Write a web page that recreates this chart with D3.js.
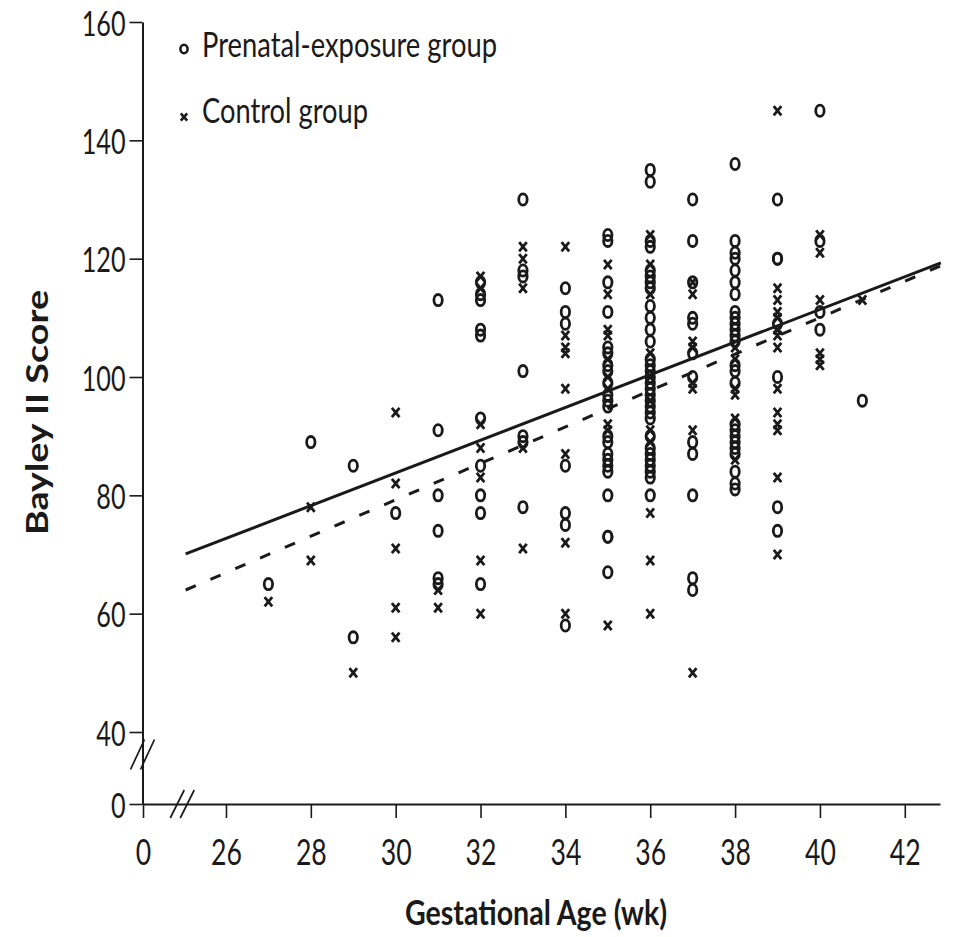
<!DOCTYPE html>
<html>
<head>
<meta charset="utf-8">
<script src="https://cdn.jsdelivr.net/npm/d3@7"></script>
<style>
  html, body { margin: 0; padding: 0; background: #fff; }
  svg { display: block; }
  text { font-family: Lato, "Open Sans", "DejaVu Sans", sans-serif; fill: #1a1a1a; }
</style>
</head>
<body>
<svg id="chart" width="958" height="937"></svg>
<script>
// Gestational age (weeks) of each column of points
const weeks = [27, 28, 29, 30, 31, 32, 33, 34, 35, 36, 37, 38, 39, 40, 41];

// Bayley II scores, prenatal-exposure group, one list per week above
const prenatalScores = [
  [65],
  [89],
  [85, 56],
  [77],
  [113, 91, 80, 74, 66, 65],
  [116, 114, 113, 108, 107, 93, 85, 80, 77, 65],
  [130, 118, 117, 101, 90, 89, 78],
  [115, 111, 109, 85, 77, 75, 58],
  [124, 123, 116, 111, 105, 104, 102, 101, 99, 97, 96, 95, 90, 89, 87, 86, 85, 84, 80, 73, 73, 67],
  [135, 133, 123, 122, 118, 117, 116, 115, 112, 110, 108, 106, 103, 102, 101, 100, 99, 98, 97, 96, 95, 94, 93, 90, 88, 87, 86, 85, 84, 83, 80],
  [130, 123, 116, 110, 109, 104, 100, 89, 87, 80, 66, 64],
  [136, 123, 121, 120, 118, 116, 114, 111, 110, 109, 108, 107, 106, 102, 101, 99, 92, 91, 90, 89, 88, 87, 84, 82, 81],
  [130, 120, 120, 109, 100, 78, 74],
  [145, 123, 111, 108],
  [96]
];

// Bayley II scores, control group, one list per week above
const controlScores = [
  [62],
  [78, 69],
  [50],
  [94, 82, 71, 61, 56],
  [64, 61],
  [117, 115, 92, 88, 83, 69, 60],
  [122, 120, 115, 88, 71],
  [122, 107, 105, 104, 98, 87, 72, 60],
  [119, 114, 108, 107, 103, 100, 98, 92, 91, 58],
  [124, 119, 114, 104, 100, 96, 91, 89, 77, 69, 60],
  [116, 114, 106, 105, 99, 98, 91, 50],
  [105, 103, 98, 97, 93, 86],
  [145, 115, 113, 111, 110, 108, 107, 105, 98, 94, 92, 91, 83, 70],
  [124, 121, 113, 104, 103, 102],
  [113]
];

// Fitted regression lines: [week, score] at each end
const trendExposure = [[25.05, 70.1], [42.85, 119.3]];
const trendControl  = [[25.05, 64.0], [42.85, 118.8]];

// Axis ticks
const xTicks = [0, 26, 28, 30, 32, 34, 36, 38, 40, 42];
const yTicks = [0, 40, 60, 80, 100, 120, 140, 160];

const legendLabels = ["Prenatal-exposure group", "Control group"];

const svg = d3.select("#chart");

// Broken scales: 0 sits a short way off the start of each axis
const x = d3.scaleLinear().domain([0, 25, 42.83]).range([143, 183.55, 940]);
const y = d3.scaleLinear().domain([0, 40, 160]).range([804, 732, 22]);

const ink = "#1a1a1a";
const condense = 0.72;

// Y axis
const yAxis = svg.append("g")
  .attr("transform", "translate(142.5,0)")
  .call(d3.axisLeft(y).tickValues(yTicks).tickSize(13).tickSizeOuter(0));
yAxis.select(".domain").attr("stroke", ink).attr("stroke-width", 2);
yAxis.selectAll(".tick line").attr("stroke", ink).attr("stroke-width", 1.6);
yAxis.selectAll(".tick text")
  .attr("x", null).attr("dy", null)
  .attr("transform", `translate(-17,13) scale(${condense},1)`)
  .attr("font-size", 35).attr("fill", ink)
  .attr("font-family", "Lato, 'Open Sans', sans-serif");

// X axis
const xAxis = svg.append("g")
  .attr("transform", `translate(0,${y(0)})`)
  .call(d3.axisBottom(x).tickValues(xTicks).tickSize(14).tickSizeOuter(0));
xAxis.select(".domain").attr("stroke", ink).attr("stroke-width", 2);
xAxis.selectAll(".tick line").attr("stroke", ink).attr("stroke-width", 1.6);
xAxis.selectAll(".tick text")
  .attr("y", null).attr("dy", null)
  .attr("transform", `translate(0,61) scale(${condense},1)`)
  .attr("font-size", 37).attr("fill", ink)
  .attr("font-family", "Lato, 'Open Sans', sans-serif");

// Axis break marks
function breakMarks(cx, cy, h) {
  const g = svg.append("g").attr("transform", `translate(${cx},${cy})`);
  [-5, 5].forEach(off => {
    g.append("line")
      .attr("x1", off - 7).attr("y1", h)
      .attr("x2", off + 7).attr("y2", -h)
      .attr("stroke", ink).attr("stroke-width", 1.7);
  });
}
breakMarks(142.5, y(27.5), 15);
breakMarks(x(24.2), y(0), 14);

// Regression lines
const line = d3.line().x(d => x(d[0])).y(d => y(d[1]));
svg.append("path").datum(trendExposure)
  .attr("d", line).attr("fill", "none")
  .attr("stroke", ink).attr("stroke-width", 3);
svg.append("path").datum(trendControl)
  .attr("d", line).attr("fill", "none")
  .attr("stroke", ink).attr("stroke-width", 3)
  .attr("stroke-dasharray", "11,16");

// Points
const flatten = lists => lists.flatMap((vals, i) => vals.map(v => ({ week: weeks[i], score: v })));
const prenatalPts = flatten(prenatalScores);
const controlPts = flatten(controlScores);

const crossPath = "M-3.8,-4.6L3.8,4.6M-3.8,4.6L3.8,-4.6";

svg.append("g").selectAll("path").data(controlPts).join("path")
  .attr("transform", d => `translate(${x(d.week)},${y(d.score)})`)
  .attr("d", crossPath)
  .attr("stroke", ink).attr("stroke-width", 2.8).attr("fill", "none");

svg.append("g").selectAll("ellipse").data(prenatalPts).join("ellipse")
  .attr("cx", d => x(d.week)).attr("cy", d => y(d.score))
  .attr("rx", 4.2).attr("ry", 5.6)
  .attr("stroke", ink).attr("stroke-width", 2.8).attr("fill", "none");

// Legend
const legend = svg.append("g");
legend.append("ellipse").attr("cx", 184).attr("cy", 49).attr("rx", 3.6).attr("ry", 4.2)
  .attr("stroke", ink).attr("stroke-width", 2.6).attr("fill", "none");
legend.append("path").attr("transform", "translate(184,117)").attr("d", "M-3.2,-3.6L3.2,3.6M-3.2,3.6L3.2,-3.6")
  .attr("stroke", ink).attr("stroke-width", 2.6).attr("fill", "none");
legend.append("text").attr("x", 202).attr("y", 57)
  .attr("font-size", 35).attr("textLength", 295).attr("lengthAdjust", "spacingAndGlyphs")
  .text(legendLabels[0]);
legend.append("text").attr("x", 202).attr("y", 123)
  .attr("font-size", 35).attr("textLength", 166).attr("lengthAdjust", "spacingAndGlyphs")
  .text(legendLabels[1]);

// Axis titles
svg.append("text")
  .attr("x", 405).attr("y", 925)
  .attr("font-size", 35).attr("font-weight", "bold")
  .attr("textLength", 262).attr("lengthAdjust", "spacingAndGlyphs")
  .text("Gestational Age (wk)");

svg.append("text")
  .attr("transform", "translate(48,535) rotate(-90)")
  .attr("font-size", 31).attr("font-weight", "bold")
  .attr("textLength", 245).attr("lengthAdjust", "spacingAndGlyphs")
  .text("Bayley II Score");
</script>
</body>
</html>
